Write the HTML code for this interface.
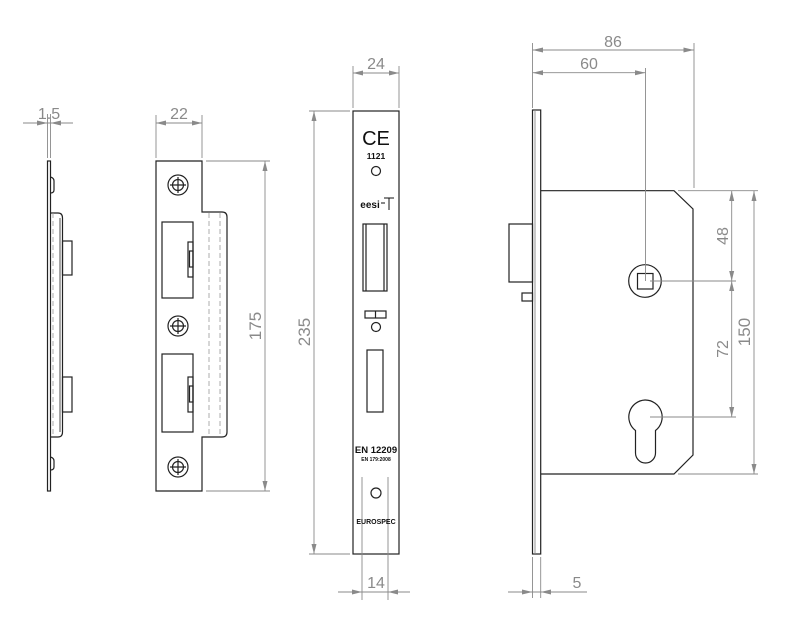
<!DOCTYPE html>
<html><head><meta charset="utf-8"><style>
html,body{margin:0;padding:0;background:#fff}
svg{display:block}
text{font-family:"Liberation Sans",sans-serif;fill:#8a8a8a}
.o{stroke:#222;stroke-width:1.2;fill:none}
.d{stroke:#8a8a8a;stroke-width:0.9;fill:none}
.dash{stroke:#999;stroke-width:0.8;stroke-dasharray:5 3;fill:none}
.a{fill:#8a8a8a}
.b{font-weight:bold;fill:#111}
</style></head><body>
<svg width="788" height="626" viewBox="0 0 788 626" xmlns="http://www.w3.org/2000/svg">
<!-- LEFT side view strike -->
<rect x="47.5" y="161" width="3" height="330" class="o"/>
<path class="o" d="M50.5 177 Q54 178 54 181 L54 190 Q54 193 50.5 193"/>
<path class="o" d="M50.5 457 Q54 458 54 461 L54 467 Q54 470 50.5 470"/>
<path class="o" d="M50.5 213 L58 213 Q62.5 213 62.5 218 L62.5 432 Q62.5 437 58 437 L50.5 437"/>
<line x1="60" y1="218" x2="60" y2="432" stroke="#888" stroke-width="1.5"/>
<line x1="53" y1="213" x2="53" y2="437" class="dash"/>
<rect x="62.5" y="241" width="9.5" height="34" class="o"/>
<rect x="62.5" y="377" width="9.5" height="35" class="o"/>
<!-- 1.5 dim -->
<line x1="47.5" y1="114" x2="47.5" y2="158" class="d"/>
<line x1="50.5" y1="114" x2="50.5" y2="158" class="d"/>
<line x1="23" y1="123" x2="73" y2="123" class="d"/>
<polygon class="a" points="47.5,123 37,120.5 37,125.5"/>
<polygon class="a" points="50.5,123 61,120.5 61,125.5"/>
<text x="49" y="119" font-size="16" text-anchor="middle">1.5</text>

<!-- Strike front -->
<path class="o" d="M156 161 L202 161 L202 212 L222 212 Q227 212 227 217 L227 432 Q227 437 222 437 L202 437 L202 491 L156 491 Z"/>
<line x1="209" y1="213" x2="209" y2="437" class="dash"/>
<line x1="220" y1="213" x2="220" y2="437" class="dash"/>
<rect x="162" y="222" width="31" height="76" class="o"/>
<rect x="162" y="354" width="31" height="78" class="o"/>
<rect x="188" y="242" width="5" height="35" class="o" stroke-width="0.8"/>
<rect x="189.5" y="251" width="3.5" height="16" class="o" stroke-width="0.8"/>
<rect x="188" y="377" width="5" height="35" class="o" stroke-width="0.8"/>
<rect x="189.5" y="386" width="3.5" height="16" class="o" stroke-width="0.8"/>
<g class="o" stroke-width="1">
<circle cx="178" cy="185" r="10"/><circle cx="178" cy="185" r="5.5"/><path d="M178 177V193M170 185H186"/>
<circle cx="178" cy="326" r="10"/><circle cx="178" cy="326" r="5.5"/><path d="M178 318V334M170 326H186"/>
<circle cx="178" cy="467" r="10"/><circle cx="178" cy="467" r="5.5"/><path d="M178 459V475M170 467H186"/>
</g>
<!-- 22 dim -->
<line x1="156" y1="115" x2="156" y2="158" class="d"/>
<line x1="202" y1="115" x2="202" y2="158" class="d"/>
<line x1="156" y1="123" x2="202" y2="123" class="d"/>
<polygon class="a" points="156,123 166,120.5 166,125.5"/>
<polygon class="a" points="202,123 192,120.5 192,125.5"/>
<text x="179" y="119" font-size="16" text-anchor="middle">22</text>
<!-- 175 dim -->
<line x1="206" y1="161" x2="270" y2="161" class="d"/>
<line x1="206" y1="491" x2="270" y2="491" class="d"/>
<line x1="265" y1="161" x2="265" y2="491" class="d"/>
<polygon class="a" points="265,161 262.5,171 267.5,171"/>
<polygon class="a" points="265,491 262.5,481 267.5,481"/>
<text x="0" y="0" font-size="17" text-anchor="middle" transform="translate(261,326) rotate(-90)">175</text>

<!-- Center faceplate -->
<rect x="353" y="111" width="46" height="443" class="o"/>
<text x="376" y="145" font-size="20" text-anchor="middle" style="fill:#111">CE</text>
<text x="376" y="159" font-size="8.5" text-anchor="middle" class="b">1121</text>
<circle cx="376" cy="171" r="4.5" class="o" stroke-width="0.9"/>
<text x="370" y="208" font-size="10" text-anchor="middle" class="b">eesi</text>
<path d="M381 203 H385 M384 198 H394 M389 198 V210" stroke="#111" stroke-width="1" fill="none"/>
<rect x="363" y="224" width="24" height="67" class="o"/>
<line x1="366" y1="224" x2="366" y2="291" class="o" stroke-width="0.8"/>
<line x1="384" y1="224" x2="384" y2="291" class="o" stroke-width="0.8"/>
<rect x="365" y="311" width="21" height="7" class="o" stroke-width="0.9"/>
<line x1="375.5" y1="311" x2="375.5" y2="318" class="o" stroke-width="0.9"/>
<circle cx="376" cy="327" r="4.5" class="o" stroke-width="0.9"/>
<rect x="367" y="350" width="16" height="62" class="o" stroke-width="1.5"/>
<text x="376" y="453" font-size="9.5" text-anchor="middle" class="b">EN 12209</text>
<text x="376" y="461" font-size="5" text-anchor="middle" class="b">EN 179:2008</text>
<line x1="362" y1="477" x2="362" y2="600" class="d"/>
<line x1="388" y1="477" x2="388" y2="600" class="d"/>
<circle cx="376" cy="493" r="5" class="o" stroke-width="0.9"/>
<text x="376" y="524" font-size="7" text-anchor="middle" class="b">EUROSPEC</text>
<!-- 24 dim -->
<line x1="353" y1="66" x2="353" y2="108" class="d"/>
<line x1="399" y1="66" x2="399" y2="108" class="d"/>
<line x1="353" y1="73" x2="399" y2="73" class="d"/>
<polygon class="a" points="353,73 363,70.5 363,75.5"/>
<polygon class="a" points="399,73 389,70.5 389,75.5"/>
<text x="376" y="69" font-size="16" text-anchor="middle">24</text>
<!-- 235 dim -->
<line x1="309" y1="111" x2="350" y2="111" class="d"/>
<line x1="309" y1="554" x2="350" y2="554" class="d"/>
<line x1="314" y1="111" x2="314" y2="554" class="d"/>
<polygon class="a" points="314,111 311.5,121 316.5,121"/>
<polygon class="a" points="314,554 311.5,544 316.5,544"/>
<text x="0" y="0" font-size="17" text-anchor="middle" transform="translate(310,332) rotate(-90)">235</text>
<!-- 14 dim -->
<line x1="338" y1="592" x2="410" y2="592" class="d"/>
<polygon class="a" points="362,592 352,589.5 352,594.5"/>
<polygon class="a" points="388,592 398,589.5 398,594.5"/>
<text x="376" y="588" font-size="16" text-anchor="middle">14</text>

<!-- Lock side -->
<rect x="532.5" y="110" width="8.2" height="444" class="o"/>
<line x1="535" y1="110" x2="535" y2="554" stroke="#888" stroke-width="0.9"/>
<rect x="509" y="224" width="23.5" height="58" class="o"/>
<rect x="522" y="293" width="10.5" height="8" class="o"/>
<path class="o" d="M540.7 190.7 L674 190.7 L693 209 L693 455 L674 474 L540.7 474"/>
<circle cx="645" cy="281" r="16.3" class="o" stroke-width="1.4"/>
<rect x="637.5" y="273.5" width="15.5" height="15.5" class="o"/>
<path class="o" d="M645 400 A17 17 0 0 1 655.5 430.5 L655.5 453 A10 10 0 0 1 635.5 453 L635.5 430.5 A17 17 0 0 1 645 400 Z"/>
<!-- 86/60 dims -->
<line x1="532.5" y1="43" x2="532.5" y2="108" class="d"/>
<line x1="694" y1="43" x2="694" y2="188" class="d"/>
<line x1="645.5" y1="68" x2="645.5" y2="281" class="d"/>
<line x1="532.5" y1="50" x2="694" y2="50" class="d"/>
<polygon class="a" points="532.5,50 543,47.5 543,52.5"/>
<polygon class="a" points="694,50 683.5,47.5 683.5,52.5"/>
<text x="613" y="47" font-size="16" text-anchor="middle">86</text>
<line x1="532.5" y1="72.7" x2="645.5" y2="72.7" class="d"/>
<polygon class="a" points="532.5,72.7 543,70.2 543,75.2"/>
<polygon class="a" points="645.5,72.7 635,70.2 635,75.2"/>
<text x="589" y="69" font-size="16" text-anchor="middle">60</text>
<!-- right dims -->
<line x1="678" y1="190.7" x2="758" y2="190.7" class="d"/>
<line x1="678" y1="474" x2="758" y2="474" class="d"/>
<line x1="650" y1="281" x2="736" y2="281" class="d"/>
<line x1="650" y1="417" x2="736" y2="417" class="d"/>
<line x1="731.7" y1="190.7" x2="731.7" y2="417" class="d"/>
<polygon class="a" points="731.7,190.7 729.2,201 734.2,201"/>
<polygon class="a" points="731.7,281 729.2,271 734.2,271"/>
<polygon class="a" points="731.7,281 729.2,291 734.2,291"/>
<polygon class="a" points="731.7,417 729.2,407 734.2,407"/>
<text x="0" y="0" font-size="16" text-anchor="middle" transform="translate(728,236) rotate(-90)">48</text>
<text x="0" y="0" font-size="16" text-anchor="middle" transform="translate(728,349) rotate(-90)">72</text>
<line x1="754" y1="190.7" x2="754" y2="474" class="d"/>
<polygon class="a" points="754,190.7 751.5,201 756.5,201"/>
<polygon class="a" points="754,474 751.5,464 756.5,464"/>
<text x="0" y="0" font-size="17" text-anchor="middle" transform="translate(750,332) rotate(-90)">150</text>
<!-- 5 dim -->
<line x1="532.5" y1="557" x2="532.5" y2="598" class="d"/>
<line x1="540.7" y1="557" x2="540.7" y2="598" class="d"/>
<line x1="508" y1="592" x2="587" y2="592" class="d"/>
<polygon class="a" points="532.5,592 522,589.5 522,594.5"/>
<polygon class="a" points="540.7,592 551,589.5 551,594.5"/>
<text x="577" y="588" font-size="16" text-anchor="middle">5</text>
</svg>
</body></html>
